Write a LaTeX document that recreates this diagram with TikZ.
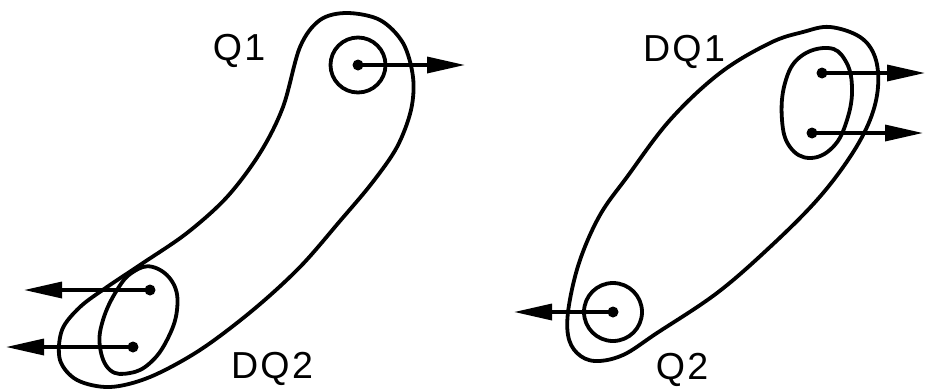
\documentclass[tikz,border=0pt]{standalone}
\usepackage{fontspec}
\setmainfont{Liberation Sans}[LetterSpace=6]
\usetikzlibrary{arrows.meta}
\begin{document}
\begin{tikzpicture}[x=1pt,y=-1pt,
  outline/.style={line width=3.8pt,line join=round},
  dot/.style={circle,fill=black,inner sep=0pt,minimum size=11pt},
  arr/.style={line width=3.4pt,-{Triangle[length=38pt,width=16pt]}},
  lbl/.style={font=\fontsize{37.6}{40}\selectfont,inner sep=0pt}]
\useasboundingbox (0,0) rectangle (925,389);
% left outer blob
\draw[outline] plot[smooth cycle,tension=0.55] coordinates {
 (300,47) (320,20) (347,13) (380,20) (403,43) (413,77) (411,110)
 (397,147) (372,183) (340,221) (300,267) (253,310) (200,350) (150,377) (110,387)
 (77,380) (60,360) (62,330) (80,307) (107,287) (143,263) (187,233)
 (227,197) (260,153) (283,107)};
% left inner ellipse
\draw[outline] plot[smooth cycle,tension=0.7] coordinates {
 (153,267) (173,283) (177,310) (167,340) (150,363) (130,373) (110,370)
 (100,347) (103,320) (117,290) (133,272)};
% Q1 circle
\draw[outline] (358,65) circle (27.5);
% right outer ellipse
\draw[outline] plot[smooth cycle,tension=0.6] coordinates {
 (830,27) (860,37) (875,57) (878,87) (870,120) (850,157) (817,200)
 (770,247) (717,293) (657,333) (623,355) (595,361) (577,353) (568,335)
 (569,305) (580,260) (600,215) (627,177) (670,120) (720,73) (770,43) (803,32)};
% right inner ellipse
\draw[outline] plot[smooth cycle,tension=0.7] coordinates {
 (828,48) (845,60) (852,87) (847,120) (833,147) (810,158) (790,147)
 (782,120) (785,83) (800,57)};
% Q2 circle
\draw[outline] (613,312) circle (29);
% dots
\node[dot] (q1) at (358,65) {};
\node[dot] (dq2a) at (150,290) {};
\node[dot] (dq2b) at (133,347) {};
\node[dot] (q2) at (613,312) {};
\node[dot] (dq1a) at (822,73) {};
\node[dot] (dq1b) at (812,133) {};
% arrow ends
\coordinate (q1e) at (465,65);
\coordinate (dq2ae) at (24,290);
\coordinate (dq2be) at (6,347);
\coordinate (q2e) at (514,312);
\coordinate (dq1ae) at (925,73);
\coordinate (dq1be) at (923,133);
\draw[arr] (q1.center) -- (q1e);
\draw[arr] (dq2a.center) -- (dq2ae);
\draw[arr] (dq2b.center) -- (dq2be);
\draw[arr] (q2.center) -- (q2e);
\draw[arr] (dq1a.center) -- (dq1ae);
\draw[arr] (dq1b.center) -- (dq1be);
% labels
\node[lbl] (lq1) at (239,51) {Q1};
\node[lbl] (ldq2) at (272,369) {DQ2};
\node[lbl] (ldq1) at (684,52) {DQ1};
\node[lbl] (lq2) at (682,370) {Q2};
\end{tikzpicture}
\end{document}
